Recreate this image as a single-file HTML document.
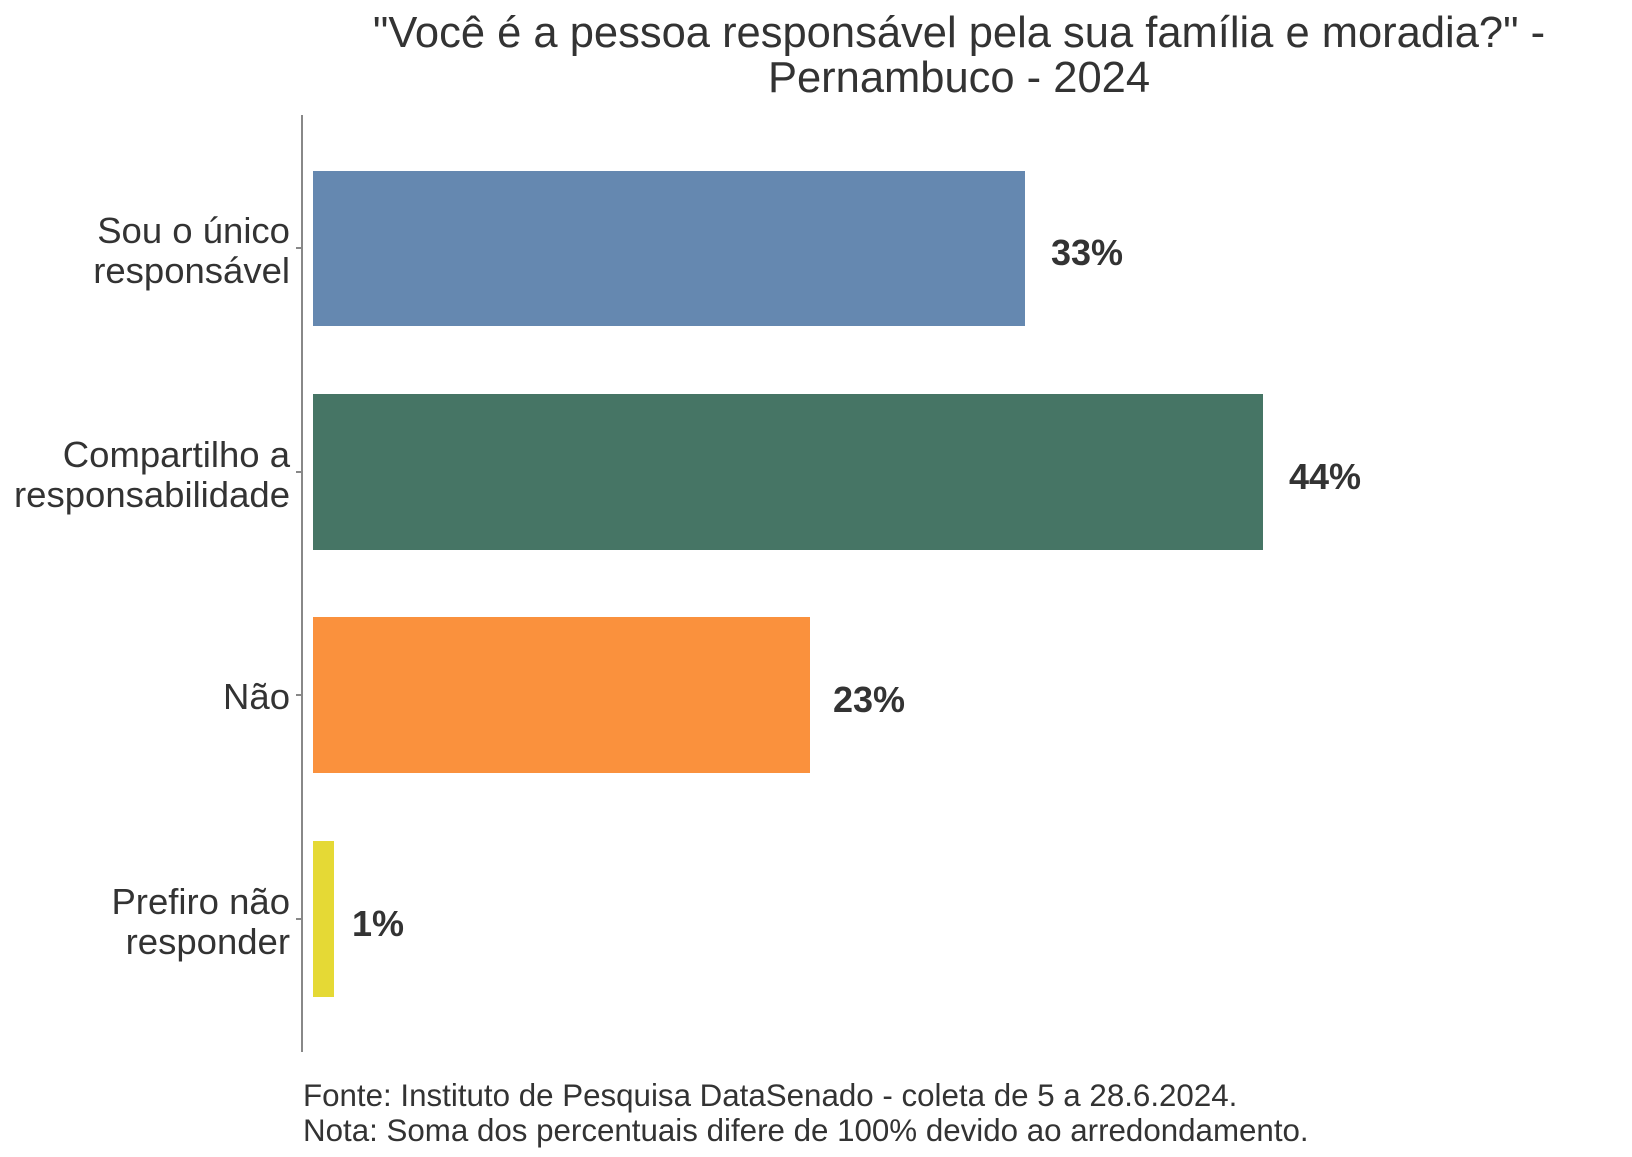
<!DOCTYPE html>
<html><head><meta charset="utf-8"><style>
body{margin:0;background:#fff;}
svg text{font-family:"Liberation Sans",Arial,sans-serif;fill:#333;}
</style></head><body>
<svg width="1632" height="1152" xmlns="http://www.w3.org/2000/svg">
<text x="959" y="47" font-size="43.5" text-anchor="middle">"Você é a pessoa responsável pela sua família e moradia?" -</text>
<text x="959" y="92" font-size="43.5" text-anchor="middle">Pernambuco - 2024</text>
<line x1="302" y1="115" x2="302" y2="1052" stroke="#888" stroke-width="2"/>
<g stroke="#888" stroke-width="2">
<line x1="296" y1="248" x2="302" y2="248"/>
<line x1="296" y1="472" x2="302" y2="472"/>
<line x1="296" y1="695" x2="302" y2="695"/>
<line x1="296" y1="919" x2="302" y2="919"/>
</g>
<rect x="313" y="171" width="712" height="155" fill="#6588b0"/>
<rect x="313" y="394" width="950" height="156" fill="#467565"/>
<rect x="313" y="617" width="497" height="156" fill="#fa913d"/>
<rect x="313" y="841" width="21" height="156" fill="#e5d935"/>
<g font-size="36" font-weight="bold">
<text x="1051" y="265">33%</text>
<text x="1289" y="489">44%</text>
<text x="833" y="712">23%</text>
<text x="352" y="936">1%</text>
</g>
<g font-size="36.5" text-anchor="end">
<text x="290" y="243">Sou o único</text>
<text x="290" y="283">responsável</text>
<text x="290" y="467">Compartilho a</text>
<text x="290" y="507">responsabilidade</text>
<text x="290" y="709">Não</text>
<text x="290" y="914">Prefiro não</text>
<text x="290" y="954">responder</text>
</g>
<g font-size="31.3">
<text x="303" y="1106">Fonte: Instituto de Pesquisa DataSenado - coleta de 5 a 28.6.2024.</text>
<text x="303" y="1141">Nota: Soma dos percentuais difere de 100% devido ao arredondamento.</text>
</g>
</svg>
</body></html>
